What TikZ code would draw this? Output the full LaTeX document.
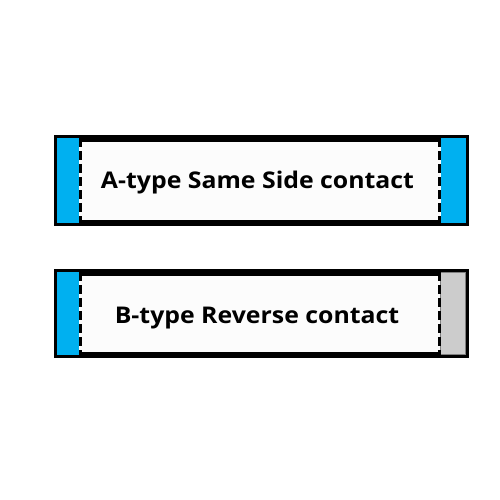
\documentclass[tikz,border=0pt]{standalone}
\usepackage{fontspec}
\setmainfont{Open Sans}
\definecolor{contactblue}{RGB}{0,176,240}
\definecolor{contactgrey}{RGB}{204,204,204}
\definecolor{cablewhite}{RGB}{252,252,252}
\newcommand{\widetext}[1]{\scalebox{1.08}[1]{#1}}
\begin{document}
\begin{tikzpicture}[x=1pt, y=-1pt,
        cable/.style={draw=black, line width=6.5pt, fill=cablewhite, minimum width=408.5pt, inner sep=0pt},
        cut/.style={black, line width=3pt, dash pattern=on 9pt off 4pt},
        caption/.style={font=\fontsize{23}{27}\selectfont\bfseries, anchor=base, inner sep=0pt}]
        \useasboundingbox[fill=white] (0,0) rectangle (500,500);
        % A-type cable
        \node[cable, minimum height=84.5pt] (boxA) at (261.5,180.5) {};
        \fill[contactblue] ([xshift=3.25pt,yshift=-3.25pt]boxA.north west) rectangle ([xshift=25pt,yshift=3.25pt]boxA.south west);
        \fill[contactblue] ([xshift=-28.5pt,yshift=-3.25pt]boxA.north east) rectangle ([xshift=-3.25pt,yshift=3.25pt]boxA.south east);
        \draw[cut] ([xshift=26.5pt,yshift=-3.25pt]boxA.north west) -- ([xshift=26.5pt,yshift=3.25pt]boxA.south west);
        \draw[cut] ([xshift=-29.75pt,yshift=-3.25pt]boxA.north east) -- ([xshift=-29.75pt,yshift=3.25pt]boxA.south east);
        \node[caption] (textA) at ([xshift=-4pt,yshift=-7.5pt]boxA.center) {\widetext{A-type Same Side contact}};
        % B-type cable
        \node[cable, minimum height=82.5pt] (boxB) at (261.5,313.5) {};
        \fill[contactblue] ([xshift=3.25pt,yshift=-3.25pt]boxB.north west) rectangle ([xshift=25pt,yshift=3.25pt]boxB.south west);
        \filldraw[fill=contactgrey, draw=gray, line width=.6pt] ([xshift=-28.5pt,yshift=-3.55pt]boxB.north east) rectangle ([xshift=-3.55pt,yshift=3.55pt]boxB.south east);
        \draw[cut] ([xshift=26.5pt,yshift=-3.25pt]boxB.north west) -- ([xshift=26.5pt,yshift=3.25pt]boxB.south west);
        \draw[cut] ([xshift=-29.75pt,yshift=-3.25pt]boxB.north east) -- ([xshift=-29.75pt,yshift=3.25pt]boxB.south east);
        \node[caption] (textB) at ([xshift=-4.5pt,yshift=-9.5pt]boxB.center) {\widetext{B-type Reverse contact}};
\end{tikzpicture}
\end{document}
